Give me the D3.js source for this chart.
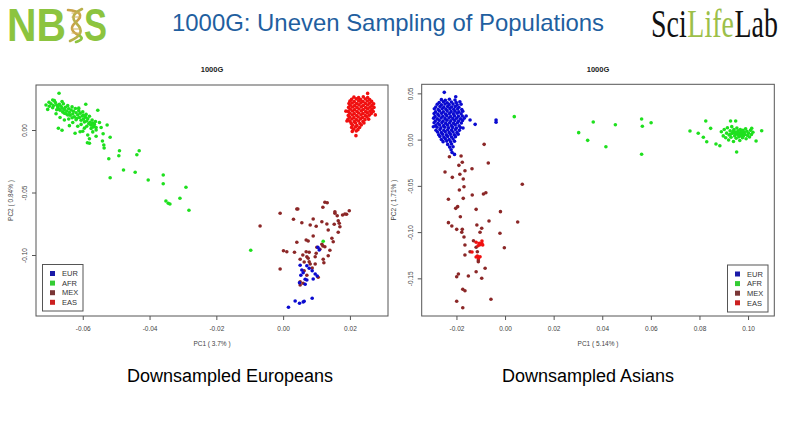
<!DOCTYPE html>
<html>
<head>
<meta charset="utf-8">
<script src="https://cdn.jsdelivr.net/npm/d3@7"></script>
<style>
  body { margin: 0; background: #fff; }
  svg { display: block; font-family: "Liberation Sans", Arial, sans-serif; }
</style>
</head>
<body>
<svg width="794" height="447"></svg>
<script>
const svg = d3.select('svg');

// ---- data (PC1, PC2) ----
const groups = ['EUR', 'AFR', 'MEX', 'EAS'];

const leftXTicks = [-0.06, -0.04, -0.02, 0.00, 0.02];
const leftYTicks = [0.00, -0.05, -0.10];
const rightXTicks = [-0.02, 0.00, 0.02, 0.04, 0.06, 0.08, 0.10];
const rightYTicks = [0.05, 0.00, -0.05, -0.10, -0.15];

// left plot: downsampled Europeans
const leftEUR = [
  [0.0104,-0.0938],[0.0108,-0.0960],[0.0051,-0.1082],[0.0071,-0.1086],[0.0078,-0.1106],[0.0056,-0.1120],
  [0.0087,-0.1126],[0.0060,-0.1142],[0.0053,-0.1162],[0.0096,-0.1152],[0.0102,-0.1168],[0.0066,-0.1194],
  [0.0071,-0.1200],[0.0090,-0.1192],[0.0066,-0.1234],[0.0087,-0.1346],[0.0036,-0.1368],[0.0049,-0.1386],
  [0.0060,-0.1376],[0.0063,-0.1370],[0.0016,-0.1418],[0.0049,-0.1222]
];
const leftAFR = [
  [-0.0671,0.0294],[-0.0701,0.0222],[-0.0591,0.0206],[-0.0555,0.0158],[-0.0673,0.0014],[-0.0662,-0.0002],
  [-0.0623,-0.0026],[-0.0608,-0.0014],[-0.0580,-0.0070],[-0.0580,-0.0106],[-0.0586,-0.0102],[-0.0527,0.0040],
  [-0.0539,-0.0030],[-0.0518,-0.0058],[-0.0541,-0.0088],[-0.0537,-0.0120],[-0.0536,-0.0144],[-0.0490,-0.0166],
  [-0.0492,-0.0206],[-0.0431,-0.0166],[-0.0438,-0.0198],[-0.0522,-0.0230],[-0.0478,-0.0320],[-0.0443,-0.0338],
  [-0.0518,-0.0382],[-0.0404,-0.0400],[-0.0359,-0.0360],[-0.0359,-0.0430],[-0.0291,-0.0458],[-0.0309,-0.0546],
  [-0.0351,-0.0568],[-0.0344,-0.0586],[-0.0339,-0.0592],[-0.0282,-0.0642],[-0.0097,-0.0962],[0.0120,-0.0890],
  [-0.0695,0.0210],[-0.0688,0.0195],[-0.0690,0.0178],[-0.0682,0.0220],[-0.0678,0.0200],[-0.0675,0.0185],
  [-0.0672,0.0170],[-0.0670,0.0205],[-0.0668,0.0158],[-0.0665,0.0190],[-0.0662,0.0175],[-0.0660,0.0145],
  [-0.0658,0.0210],[-0.0655,0.0165],[-0.0652,0.0182],[-0.0650,0.0130],[-0.0648,0.0152],[-0.0645,0.0195],
  [-0.0642,0.0170],[-0.0640,0.0140],[-0.0638,0.0118],[-0.0635,0.0160],[-0.0632,0.0185],[-0.0630,0.0128],
  [-0.0628,0.0150],[-0.0625,0.0105],[-0.0622,0.0172],[-0.0620,0.0138],[-0.0618,0.0092],[-0.0615,0.0120],
  [-0.0612,0.0155],[-0.0610,0.0100],[-0.0608,0.0135],[-0.0605,0.0078],[-0.0602,0.0112],[-0.0600,0.0145],
  [-0.0598,0.0088],[-0.0595,0.0065],[-0.0592,0.0102],[-0.0590,0.0125],[-0.0588,0.0072],[-0.0585,0.0090],
  [-0.0582,0.0050],[-0.0580,0.0110],[-0.0578,0.0062],[-0.0575,0.0038],[-0.0572,0.0080],[-0.0570,0.0055],
  [-0.0568,0.0025],[-0.0565,0.0045],[-0.0562,0.0068],[-0.0560,0.0020],[-0.0685,0.0235],[-0.0700,0.0190],
  [-0.0662,0.0228],[-0.0645,0.0120],[-0.0632,0.0098],[-0.0655,0.0135],[-0.0678,0.0162],[-0.0612,0.0175],
  [-0.0598,0.0118],[-0.0620,0.0082],[-0.0642,0.0088],[-0.0588,0.0030],[-0.0605,0.0045],[-0.0575,0.0012],
  [-0.0615,0.0030],[-0.0600,-0.0010],[-0.0585,-0.0040],[-0.0570,-0.0015],[-0.0595,0.0015],[-0.0560,0.0000],
  [-0.0550,0.0060],[-0.0630,0.0060],[-0.0640,0.0035],[-0.0655,0.0080],[-0.0668,0.0100],[-0.0680,0.0130],
  [-0.0560,-0.0050],[-0.0545,0.0020],[-0.0710,0.0200],[-0.0705,0.0165],[-0.0690,0.0240]
];
const leftMEX = [
  [0.0125,-0.0578],[0.0119,-0.0618],[0.0041,-0.0632],[-0.0009,-0.0666],[0.0031,-0.0714],[0.0056,-0.0742],
  [0.0090,-0.0712],[0.0116,-0.0734],[0.0081,-0.0760],[0.0099,-0.0770],[0.0131,-0.0752],[0.0155,-0.0666],
  [0.0162,-0.0686],[0.0178,-0.0680],[0.0198,-0.0646],[0.0190,-0.0674],[0.0165,-0.0726],[0.0168,-0.0746],
  [0.0170,-0.0774],[0.0153,-0.0754],[0.0165,-0.0818],[0.0135,-0.0800],[-0.0069,-0.0768],[0.0041,-0.0898],
  [0.0069,-0.0880],[0.0075,-0.0888],[0.0090,-0.0848],[0.0146,-0.0866],[0.0150,-0.0894],[0.0116,-0.0914],
  [0.0119,-0.0928],[0.0125,-0.0934],[0.0101,-0.0938],[0.0110,-0.0954],[0.0140,-0.0962],[0.0135,-0.1006],
  [0.0120,-0.1034],[0.0122,-0.1062],[0.0099,-0.0986],[0.0096,-0.1014],[0.0078,-0.0978],[0.0069,-0.0974],
  [0.0071,-0.1014],[0.0075,-0.1026],[0.0078,-0.1054],[0.0081,-0.1072],[0.0051,-0.1034],[0.0001,-0.0966],
  [0.0011,-0.0974],[0.0034,-0.0978],[0.0059,-0.1000],[-0.0009,-0.1112],[0.0051,-0.1214],[0.0051,-0.1240],
  [0.0060,-0.1226],[0.0105,-0.1178],[0.0071,-0.1162],[0.0063,-0.1126],[0.0096,-0.1072],[0.0132,-0.0582],
  [0.0185,-0.0672],[0.0155,-0.0654],[0.0044,-0.0632],[0.0063,-0.1056],[0.0087,-0.1104]
];
const leftEAS = [
  [0.0253,0.0293],[0.0191,0.0072],[0.0218,-0.0045],[0.0276,0.0121],[0.0188,0.0151],
  [0.0212,0.0263],[0.0226,0.0259],[0.0240,0.0265],[0.0253,0.0260],
  [0.0205,0.0245],[0.0219,0.0249],[0.0232,0.0243],[0.0246,0.0248],[0.0259,0.0244],
  [0.0200,0.0231],[0.0213,0.0227],[0.0226,0.0233],[0.0239,0.0228],[0.0252,0.0232],[0.0265,0.0229],
  [0.0197,0.0212],[0.0207,0.0216],[0.0220,0.0211],[0.0233,0.0217],[0.0246,0.0213],[0.0259,0.0215],[0.0271,0.0210],
  [0.0201,0.0199],[0.0214,0.0195],[0.0227,0.0201],[0.0240,0.0196],[0.0253,0.0200],[0.0266,0.0197],
  [0.0196,0.0181],[0.0208,0.0184],[0.0221,0.0180],[0.0234,0.0185],[0.0247,0.0179],[0.0260,0.0183],[0.0272,0.0181],
  [0.0201,0.0167],[0.0214,0.0163],[0.0227,0.0168],[0.0240,0.0164],[0.0253,0.0169],[0.0266,0.0165],
  [0.0195,0.0149],[0.0208,0.0152],[0.0221,0.0148],[0.0234,0.0153],[0.0247,0.0147],[0.0260,0.0151],[0.0270,0.0148],
  [0.0200,0.0135],[0.0213,0.0131],[0.0226,0.0136],[0.0239,0.0132],[0.0252,0.0137],[0.0264,0.0133],
  [0.0195,0.0117],[0.0207,0.0120],[0.0220,0.0116],[0.0233,0.0121],[0.0246,0.0115],[0.0258,0.0119],
  [0.0199,0.0103],[0.0212,0.0099],[0.0225,0.0104],[0.0238,0.0100],[0.0251,0.0105],
  [0.0194,0.0085],[0.0206,0.0088],[0.0219,0.0084],[0.0232,0.0089],[0.0245,0.0083],[0.0256,0.0087],
  [0.0200,0.0071],[0.0213,0.0067],[0.0226,0.0072],[0.0239,0.0068],
  [0.0204,0.0053],[0.0217,0.0057],[0.0230,0.0052],[0.0242,0.0056],
  [0.0208,0.0039],[0.0221,0.0035],[0.0234,0.0040],
  [0.0205,0.0021],[0.0217,0.0025],[0.0229,0.0020],
  [0.0211,0.0007],[0.0224,0.0003],
  [0.0207,-0.0011],[0.0219,-0.0008]
];

// right plot: downsampled Asians
const rightEUR = [
  [-0.0250,0.0511],[-0.0203,0.0464],[-0.0295,0.0139],[-0.0144,0.0212],[-0.0123,0.0165],[-0.0037,0.0212],
  [-0.0037,0.0187],[-0.0160,0.0255],[-0.0173,0.0125],
  [-0.0262,0.0432],[-0.0246,0.0425],[-0.0229,0.0436],[-0.0206,0.0428],
  [-0.0271,0.0402],[-0.0254,0.0410],[-0.0238,0.0398],[-0.0221,0.0407],[-0.0201,0.0401],[-0.0186,0.0409],
  [-0.0279,0.0383],[-0.0262,0.0376],[-0.0247,0.0385],[-0.0230,0.0378],[-0.0214,0.0384],[-0.0197,0.0377],[-0.0181,0.0382],
  [-0.0285,0.0352],[-0.0268,0.0358],[-0.0252,0.0351],[-0.0236,0.0359],[-0.0220,0.0353],[-0.0205,0.0357],[-0.0190,0.0350],
  [-0.0291,0.0333],[-0.0275,0.0326],[-0.0259,0.0334],[-0.0243,0.0327],[-0.0227,0.0335],[-0.0211,0.0328],[-0.0195,0.0332],[-0.0178,0.0325],
  [-0.0286,0.0302],[-0.0270,0.0309],[-0.0254,0.0301],[-0.0238,0.0308],[-0.0222,0.0303],[-0.0206,0.0307],[-0.0190,0.0300],[-0.0174,0.0306],
  [-0.0292,0.0283],[-0.0277,0.0276],[-0.0261,0.0284],[-0.0245,0.0277],[-0.0229,0.0282],[-0.0213,0.0278],[-0.0197,0.0285],[-0.0181,0.0279],
  [-0.0288,0.0251],[-0.0272,0.0258],[-0.0256,0.0252],[-0.0240,0.0259],[-0.0224,0.0250],[-0.0208,0.0257],[-0.0192,0.0253],[-0.0176,0.0256],
  [-0.0294,0.0232],[-0.0279,0.0226],[-0.0263,0.0233],[-0.0247,0.0227],[-0.0231,0.0234],[-0.0215,0.0228],[-0.0199,0.0231],[-0.0183,0.0225],[-0.0168,0.0232],
  [-0.0287,0.0202],[-0.0271,0.0208],[-0.0255,0.0201],[-0.0239,0.0209],[-0.0223,0.0203],[-0.0207,0.0207],[-0.0191,0.0200],[-0.0175,0.0206],
  [-0.0292,0.0183],[-0.0276,0.0177],[-0.0260,0.0184],[-0.0244,0.0178],[-0.0228,0.0182],[-0.0212,0.0176],[-0.0196,0.0183],[-0.0180,0.0179],
  [-0.0285,0.0152],[-0.0269,0.0158],[-0.0253,0.0151],[-0.0237,0.0157],[-0.0221,0.0153],[-0.0205,0.0159],[-0.0189,0.0150],
  [-0.0280,0.0133],[-0.0264,0.0127],[-0.0248,0.0134],[-0.0232,0.0128],[-0.0216,0.0132],[-0.0200,0.0126],[-0.0184,0.0131],
  [-0.0284,0.0102],[-0.0268,0.0108],[-0.0252,0.0101],[-0.0236,0.0107],[-0.0220,0.0103],[-0.0204,0.0109],[-0.0188,0.0100],
  [-0.0278,0.0083],[-0.0262,0.0077],[-0.0246,0.0084],[-0.0230,0.0078],[-0.0214,0.0082],[-0.0198,0.0076],
  [-0.0273,0.0052],[-0.0257,0.0058],[-0.0241,0.0051],[-0.0225,0.0057],[-0.0209,0.0053],[-0.0193,0.0059],
  [-0.0268,0.0033],[-0.0252,0.0027],[-0.0236,0.0034],[-0.0220,0.0028],[-0.0204,0.0032],
  [-0.0262,0.0002],[-0.0246,0.0008],[-0.0230,0.0001],[-0.0214,0.0007],
  [-0.0255,-0.0022],[-0.0240,-0.0016],[-0.0224,-0.0024],[-0.0208,-0.0018],
  [-0.0236,-0.0052],[-0.0220,-0.0047],[-0.0228,-0.0081],[-0.0214,-0.0077],
  [-0.0222,-0.0110],[-0.0218,-0.0140],[-0.0208,-0.0160]
];
const rightAFR = [
  [0.0038,0.0248],[0.0303,0.0075],[0.0340,-0.0008],[0.0363,0.0190],[0.0415,-0.0077],[0.0454,0.0161],
  [0.0562,0.0223],[0.0565,0.0144],[0.0601,0.0183],[0.0562,-0.0159],[0.0761,0.0093],[0.0795,0.0068],
  [0.0826,0.0201],[0.0846,0.0122],[0.0816,0.0025],[0.0830,-0.0023],[0.0868,-0.0048],[0.0884,-0.0066],
  [0.0928,0.0201],[0.0949,0.0201],[0.0953,-0.0134],[0.1056,0.0096],[0.1033,-0.0015],[0.1015,0.0122],
  [0.0890,0.0085],[0.0898,0.0040],[0.0902,0.0110],[0.0908,0.0020],[0.0912,0.0070],[0.0915,0.0128],
  [0.0920,-0.0005],[0.0922,0.0050],[0.0926,0.0095],[0.0930,0.0025],[0.0933,0.0140],[0.0936,0.0068],
  [0.0940,-0.0020],[0.0942,0.0110],[0.0945,0.0040],[0.0948,0.0082],[0.0951,0.0015],[0.0954,0.0125],
  [0.0956,0.0058],[0.0959,0.0095],[0.0962,0.0030],[0.0964,0.0070],[0.0966,-0.0010],[0.0968,0.0110],
  [0.0970,0.0048],[0.0972,0.0085],[0.0975,0.0062],[0.0977,0.0020],[0.0979,0.0100],[0.0981,0.0040],
  [0.0984,0.0075],[0.0987,0.0055],[0.0990,0.0118],[0.0992,0.0010],[0.0995,0.0090],[0.0998,0.0045],
  [0.1002,0.0068],[0.1006,0.0028],[0.1010,0.0100],[0.1014,0.0055],[0.1020,0.0080],[0.0960,0.0050],
  [0.0966,0.0060],[0.0972,0.0040],[0.0958,0.0075],[0.0975,0.0078],[0.0948,0.0060],[0.0985,0.0062],
  [0.0938,0.0088],[0.0928,0.0058]
];
const rightMEX = [
  [-0.0086,-0.0051],[-0.0229,-0.0185],[-0.0181,-0.0177],[-0.0176,-0.0245],[-0.0190,-0.0278],[-0.0165,-0.0336],
  [-0.0136,-0.0315],[-0.0247,-0.0350],[-0.0217,-0.0408],[-0.0186,-0.0375],[-0.0172,-0.0426],[-0.0069,-0.0253],
  [0.0071,-0.0483],[-0.0188,-0.0545],[-0.0169,-0.0509],[-0.0135,-0.0599],[-0.0233,-0.0645],[-0.0172,-0.0635],
  [-0.0089,-0.0588],[-0.0079,-0.0574],[-0.0195,-0.0725],[-0.0184,-0.0834],[-0.0203,-0.0743],[-0.0119,-0.0754],
  [-0.0019,-0.0779],[-0.0233,-0.0898],[-0.0219,-0.0934],[-0.0199,-0.0970],[-0.0176,-0.0970],[-0.0116,-0.0923],
  [-0.0096,-0.0959],[-0.0066,-0.0880],[0.0052,-0.0891],[-0.0178,-0.1002],[-0.0169,-0.1053],[-0.0103,-0.1002],
  [-0.0021,-0.1013],[-0.0130,-0.1093],[-0.0165,-0.1139],[-0.0144,-0.1212],[-0.0165,-0.1248],[-0.0119,-0.1164],
  [-0.0114,-0.1212],[-0.0110,-0.1302],[-0.0003,-0.1169],[-0.0082,-0.1391],[-0.0096,-0.1499],[-0.0192,-0.1453],
  [-0.0199,-0.1482],[-0.0151,-0.1475],[-0.0119,-0.1428],[-0.0174,-0.1618],[-0.0165,-0.1634],[-0.0199,-0.1748],
  [-0.0058,-0.1726],[-0.0174,-0.1817],[-0.0110,-0.1320]
];
const rightEAS = [
  [-0.0119,-0.1110],[-0.0106,-0.1121],[-0.0096,-0.1121],[-0.0092,-0.1139],[-0.0103,-0.1136],[-0.0111,-0.1147],
  [-0.0114,-0.1258],[-0.0103,-0.1266],[-0.0109,-0.1280],[-0.0119,-0.1269],[-0.0136,-0.1215],[-0.0095,-0.1097]
];

// ---- styles ----
const pointColor  = { EUR: '#0a0ad0', AFR: '#1ee01e', MEX: '#8b2727', EAS: '#f01010' };
const legendColor = { EUR: '#1a1aa8', AFR: '#33cc33', MEX: '#7a3636', EAS: '#cc2020' };
const drawOrder = ['MEX', 'EUR', 'AFR', 'EAS'];
const fmt = d => d3.format('.2f')(d).replace('\u2212', '-');

const panels = [
  { left: 36, right: 388, top: 85, bottom: 316,
    xDomain: [-0.074, 0.0314], yDomain: [-0.1488, 0.036],
    xTicks: leftXTicks, yTicks: leftYTicks,
    xLabel: 'PC1 ( 3.7% )', yLabel: 'PC2 ( 0.84% )', yLabelX: 13,
    points: { EUR: leftEUR, AFR: leftAFR, MEX: leftMEX, EAS: leftEAS },
    legend: { x: 42.5, y: 264.5, w: 40.5, h: 46.5 },
    caption: 'Downsampled Europeans', captionX: 230 },
  { left: 421.7, right: 774.3, top: 84.3, bottom: 316,
    xDomain: [-0.0343, 0.1108], yDomain: [-0.1907, 0.0598],
    xTicks: rightXTicks, yTicks: rightYTicks,
    xLabel: 'PC1 ( 5.14% )', yLabel: 'PC2 ( 1.71% )', yLabelX: 396,
    points: { EUR: rightEUR, AFR: rightAFR, MEX: rightMEX, EAS: rightEAS },
    legend: { x: 727.5, y: 265, w: 40.5, h: 47 },
    caption: 'Downsampled Asians', captionX: 588 }
];

// ---- header ----
const nbisGreen = '#8cc43f';
svg.append('text').attr('x', 7).attr('y', 41)
  .attr('font-size', 46).attr('font-weight', 'bold').attr('fill', nbisGreen)
  .attr('textLength', 59).attr('lengthAdjust', 'spacingAndGlyphs').text('NB');
svg.append('text').attr('x', 84).attr('y', 41)
  .attr('font-size', 46).attr('font-weight', 'bold').attr('fill', nbisGreen)
  .attr('textLength', 23).attr('lengthAdjust', 'spacingAndGlyphs').text('S');
// the DNA helix standing in for the "I"
const helix = svg.append('g').attr('fill', 'none').attr('stroke-width', 2.6).attr('stroke-linecap', 'round');
helix.append('path').attr('stroke', '#c9a349').attr('d', 'M68,10 C80,11 84,15 76,22 C70,27 70,31 80,36');
helix.append('path').attr('stroke', '#b9b04a').attr('d', 'M82,9 C74,13 70,17 77,24 C83,30 82,36 70,41');
helix.append('path').attr('stroke', '#8cc43f').attr('d', 'M80,36 C83,38 82,40 76,42');
helix.selectAll('line').data([13, 17, 29, 33]).join('line')
  .attr('x1', 72).attr('x2', 80).attr('y1', d => d).attr('y2', d => d)
  .attr('stroke', '#d2b25a').attr('stroke-width', 1.2);

svg.append('text').attr('x', 172).attr('y', 31)
  .attr('font-size', 24).attr('fill', '#1f5fa0')
  .attr('textLength', 432).attr('lengthAdjust', 'spacingAndGlyphs')
  .text('1000G: Uneven Sampling of Populations');

// SciLifeLab word mark, narrowed and stretched upwards like the logo
const logo = svg.append('text')
  .attr('transform', 'translate(651,37) scale(0.93,1.3)')
  .attr('font-family', '"Liberation Serif", "Times New Roman", serif').attr('font-size', 30)
  .attr('fill', '#111');
logo.append('tspan').text('Sci');
logo.append('tspan').attr('dx', 0.8).attr('fill', '#9cbf4a').text('Life');
logo.append('tspan').attr('dx', 0.8).text('Lab');

// ---- panels ----
const renderPanel = p => {
  const x = d3.scaleLinear().domain(p.xDomain).range([p.left, p.right]);
  const y = d3.scaleLinear().domain(p.yDomain).range([p.bottom, p.top]);
  const g = svg.append('g');

  g.append('text')
    .attr('x', (p.left + p.right) / 2).attr('y', 72)
    .attr('text-anchor', 'middle').attr('font-size', 7.5).attr('font-weight', 'bold').attr('fill', '#222')
    .text('1000G');

  drawOrder.forEach(grp => {
    g.append('g').selectAll('circle')
      .data(p.points[grp]).join('circle')
        .attr('cx', d => x(d[0]))
        .attr('cy', d => y(d[1]))
        .attr('r', 1.8)
        .attr('fill', pointColor[grp]);
  });

  g.append('rect')
    .attr('x', p.left).attr('y', p.top)
    .attr('width', p.right - p.left).attr('height', p.bottom - p.top)
    .attr('fill', 'none').attr('stroke', '#555');

  const xAxisG = g.append('g')
    .attr('transform', `translate(0,${p.bottom})`)
    .call(d3.axisBottom(x).tickValues(p.xTicks).tickSize(4).tickFormat(fmt));
  xAxisG.select('.domain').remove();
  xAxisG.selectAll('line').attr('stroke', '#555');
  xAxisG.selectAll('text').attr('y', 15).attr('dy', 0)
    .attr('font-size', 6.5).attr('fill', '#444').attr('font-family', '"Liberation Sans", Arial, sans-serif');

  const yAxisG = g.append('g')
    .attr('transform', `translate(${p.left},0)`)
    .call(d3.axisLeft(y).tickValues(p.yTicks).tickSize(4).tickFormat(fmt));
  yAxisG.select('.domain').remove();
  yAxisG.selectAll('line').attr('stroke', '#555');
  yAxisG.selectAll('text')
    .attr('x', 0).attr('y', -9).attr('dy', 0)
    .attr('text-anchor', 'middle').attr('transform', 'rotate(-90)')
    .attr('font-size', 6.5).attr('fill', '#444').attr('font-family', '"Liberation Sans", Arial, sans-serif');

  g.append('text')
    .attr('x', (p.left + p.right) / 2).attr('y', 346)
    .attr('text-anchor', 'middle').attr('font-size', 6.5).attr('fill', '#444')
    .text(p.xLabel);
  g.append('text')
    .attr('transform', `translate(${p.yLabelX},${(p.top + p.bottom) / 2}) rotate(-90)`)
    .attr('text-anchor', 'middle').attr('font-size', 6.5).attr('fill', '#444')
    .text(p.yLabel);

  // legend
  const lg = g.append('g').attr('transform', `translate(${p.legend.x},${p.legend.y})`);
  lg.append('rect').attr('width', p.legend.w).attr('height', p.legend.h)
    .attr('fill', '#fff').attr('stroke', '#555');
  const item = lg.selectAll('g.item').data(groups).join('g')
    .attr('class', 'item')
    .attr('transform', (d, i) => `translate(0,${9 + i * 9.6})`);
  item.append('rect').attr('x', 7.5).attr('y', -2.5).attr('width', 5).attr('height', 5)
    .attr('fill', d => legendColor[d]);
  item.append('text').attr('x', 19.5).attr('y', 2.7)
    .attr('font-size', 7.5).attr('fill', '#333').text(d => d);

  svg.append('text')
    .attr('x', p.captionX).attr('y', 382)
    .attr('text-anchor', 'middle').attr('font-size', 18).attr('fill', '#000')
    .text(p.caption);
};

panels.forEach(renderPanel);
</script>
</body>
</html>
